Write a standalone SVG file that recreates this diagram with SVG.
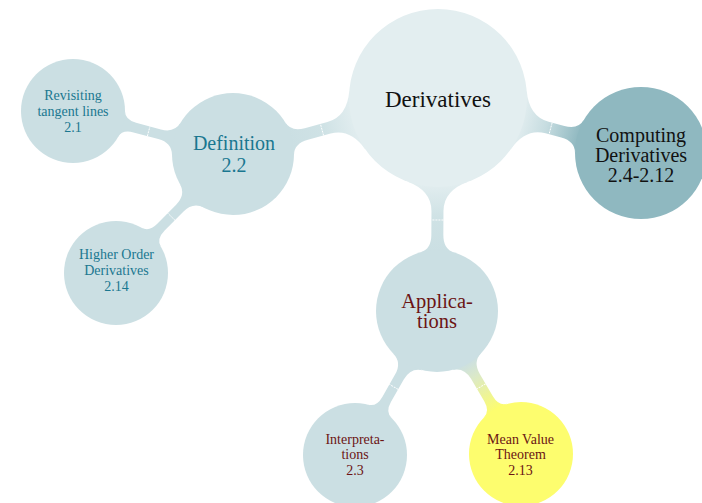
<svg xmlns="http://www.w3.org/2000/svg" width="702" height="503" viewBox="0 0 702 503">
  <defs>
    <linearGradient id="g-light-mid" x1="0" y1="0" x2="1" y2="0">
      <stop offset="0" stop-color="#e3eef0"/>
      <stop offset="0.5" stop-color="#cfe2e5"/>
      <stop offset="1" stop-color="#cbdfe3"/>
    </linearGradient>
    <linearGradient id="g-light-dark" x1="0" y1="0" x2="1" y2="0">
      <stop offset="0" stop-color="#e3eef0"/>
      <stop offset="0.45" stop-color="#c6dce0"/>
      <stop offset="1" stop-color="#8fb8c0"/>
    </linearGradient>
    <linearGradient id="g-mid-yellow" x1="0" y1="0" x2="1" y2="0">
      <stop offset="0" stop-color="#cbdfe3"/>
      <stop offset="0.3" stop-color="#dbe9c8"/>
      <stop offset="1" stop-color="#fdfd6e"/>
    </linearGradient>
    <style>
      .bar-mid { fill: #cbdfe3; }
      .split { stroke: #ffffff; stroke-width: 0.9; stroke-dasharray: 2 1; }
      .root { fill: #e3eef0; }
      .mid { fill: #cbdfe3; }
      .dark { fill: #8fb8c0; }
      .yellow { fill: #fdfd6e; }
      text { font-family: "Liberation Serif", "DejaVu Serif", serif; text-anchor: middle; }
      .teal { fill: #1a7790; }
      .maroon { fill: #6b1414; }
      .black { fill: #111111; }
    </style>
  </defs>
  <rect width="702" height="503" fill="#ffffff"/>

  <!-- concept connection bars, drawn in local frames (x axis from parent to child) -->
  <g id="connectors">
    <g transform="translate(438,98) rotate(164.72)">
      <path fill="url(#g-light-mid)" d="M83.63,-30.44 Q92.53,-6 113,-6 L136.5,-6 Q150.76,-6 153.86,-16.81 L153.86,16.81 Q150.76,6 136.5,6 L113,6 Q92.53,6 83.63,30.44 Z"/>
      <line class="split" x1="120.25" y1="-6" x2="120.25" y2="6"/>
    </g>
    <g transform="translate(438,98) rotate(15.16)">
      <path fill="url(#g-light-dark)" d="M83.63,-30.44 Q92.53,-6 113,-6 L129.3,-6 Q143.58,-6 146.55,-17.08 L146.55,17.08 Q143.58,6 129.3,6 L113,6 Q92.53,6 83.63,30.44 Z"/>
      <line class="split" x1="116.65" y1="-6" x2="116.65" y2="6"/>
    </g>
    <g transform="translate(438,98) rotate(90.27)">
      <path fill="url(#g-light-mid)" d="M83.63,-30.44 Q92.53,-6 113,-6 L137,-6 Q151.26,-6 154.36,-16.81 L154.36,16.81 Q151.26,6 137,6 L113,6 Q92.53,6 83.63,30.44 Z"/>
      <line class="split" x1="122" y1="-6" x2="122" y2="6"/>
    </g>
    <g transform="translate(233,154) rotate(195.04)">
      <path class="bar-mid" d="M58.64,-16.81 Q62.02,-5 76,-5 L101.7,-5 Q113.2,-5 115.47,-13.46 L115.47,13.46 Q113.2,5 101.7,5 L76,5 Q62.02,5 58.64,16.81 Z"/>
      <line class="split" x1="87.35" y1="-5" x2="87.35" y2="5"/>
    </g>
    <g transform="translate(233,154) rotate(134.52)">
      <path class="bar-mid" d="M58.64,-16.81 Q62.02,-5 76,-5 L102.9,-5 Q114.4,-5 116.67,-13.46 L116.67,13.46 Q114.4,5 102.9,5 L76,5 Q62.02,5 58.64,16.81 Z"/>
      <line class="split" x1="87.95" y1="-5" x2="87.95" y2="5"/>
    </g>
    <g transform="translate(437,311) rotate(119.66)">
      <path class="bar-mid" d="M58.64,-16.81 Q62.02,-5 76,-5 L101.7,-5 Q113.2,-5 115.47,-13.46 L115.47,13.46 Q113.2,5 101.7,5 L76,5 Q62.02,5 58.64,16.81 Z"/>
      <line class="split" x1="87.35" y1="-5" x2="87.35" y2="5"/>
    </g>
    <g transform="translate(437,311) rotate(59.57)">
      <path fill="url(#g-mid-yellow)" d="M58.64,-16.81 Q62.02,-5 76,-5 L101.8,-5 Q113.3,-5 115.57,-13.46 L115.57,13.46 Q113.3,5 101.8,5 L76,5 Q62.02,5 58.64,16.81 Z"/>
      <line class="split" x1="87.4" y1="-5" x2="87.4" y2="5"/>
    </g>
  </g>

  <g id="derivatives">
    <circle class="root" cx="438" cy="98" r="89"/>
    <text class="black" x="438" y="107" font-size="23">Derivatives</text>
  </g>

  <g id="computing">
    <circle class="dark" cx="641" cy="153" r="66"/>
    <text class="black" x="641" y="142" font-size="20">Computing</text>
    <text class="black" x="641" y="162" font-size="20">Derivatives</text>
    <text class="black" x="641" y="182" font-size="20">2.4-2.12</text>
  </g>

  <g id="definition">
    <circle class="mid" cx="233" cy="154" r="61"/>
    <text class="teal" x="234" y="150" font-size="20">Definition</text>
    <text class="teal" x="234" y="172" font-size="20">2.2</text>
  </g>

  <g id="revisiting">
    <circle class="mid" cx="73" cy="111" r="52"/>
    <text class="teal" x="73" y="100" font-size="14">Revisiting</text>
    <text class="teal" x="73" y="116" font-size="14">tangent lines</text>
    <text class="teal" x="73" y="132" font-size="14">2.1</text>
  </g>

  <g id="higher-order">
    <circle class="mid" cx="116" cy="273" r="52"/>
    <text class="teal" x="116.5" y="259" font-size="14">Higher Order</text>
    <text class="teal" x="116.5" y="275" font-size="14">Derivatives</text>
    <text class="teal" x="116.5" y="291" font-size="14">2.14</text>
  </g>

  <g id="applications">
    <circle class="mid" cx="437" cy="311" r="61"/>
    <text class="maroon" x="437" y="308" font-size="20.5">Applica-</text>
    <text class="maroon" x="437" y="328" font-size="20.5">tions</text>
  </g>

  <g id="interpretations">
    <circle class="mid" cx="355" cy="455" r="52"/>
    <text class="maroon" x="355" y="444" font-size="14">Interpreta-</text>
    <text class="maroon" x="355" y="459" font-size="14">tions</text>
    <text class="maroon" x="355" y="475" font-size="14">2.3</text>
  </g>

  <g id="mean-value">
    <circle class="yellow" cx="521" cy="454" r="52"/>
    <text class="maroon" x="520.5" y="444" font-size="14">Mean Value</text>
    <text class="maroon" x="520.5" y="459" font-size="14">Theorem</text>
    <text class="maroon" x="520.5" y="475" font-size="14">2.13</text>
  </g>
</svg>
